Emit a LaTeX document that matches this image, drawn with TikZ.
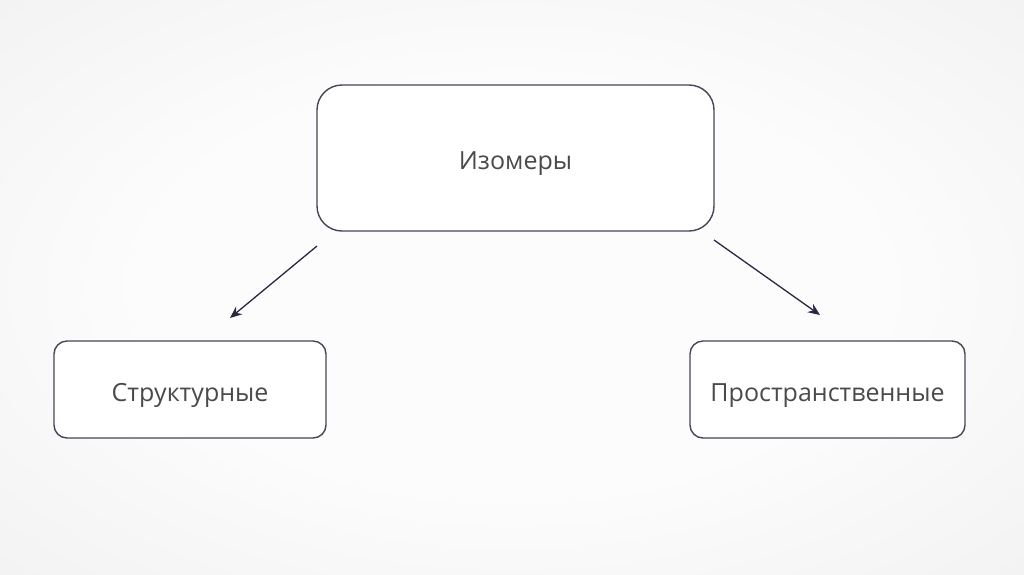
\documentclass[tikz,border=0pt]{standalone}
\usepackage{fontspec}
\setmainfont{Open Sans}
\usetikzlibrary{arrows.meta}
\definecolor{bgcenter}{HTML}{FCFCFC}
\definecolor{bgmid}{HTML}{F3F3F3}
\definecolor{bgedge}{HTML}{EAEAEA}
\definecolor{bgcorner}{HTML}{E2E2E2}
\definecolor{boxline}{HTML}{4A4456}
\definecolor{arrowcol}{HTML}{2E2640}
\definecolor{txtcol}{HTML}{4A4A4A}
\pgfdeclareradialshading{bgshade}{\pgfpoint{0bp}{0bp}}{color(0bp)=(bgcenter); color(18bp)=(bgcenter); color(35bp)=(bgmid); color(50bp)=(bgedge); color(71bp)=(bgcorner)}
\tikzset{
  boxstyle/.style={draw=boxline, line width=1.4pt, fill=white, inner sep=0pt,
    text=txtcol, font=\fontsize{25}{29}\selectfont, text height=24pt, text depth=1pt},
  arrowstyle/.style={draw=arrowcol, line width=1.3pt, -{Stealth[length=12pt,width=10pt]}}
}
\begin{document}
\begin{tikzpicture}[x=1pt,y=-1pt]
\useasboundingbox (0,0) rectangle (1024,574);
\shade[shading=bgshade] (0,0) rectangle (1024,574);
\node[boxstyle, minimum width=397pt, minimum height=146pt, rounded corners=25pt] (top) at (515.5,158) {Изомеры};
\node[boxstyle, minimum width=272pt, minimum height=97pt, rounded corners=13pt] (left) at (190,389.5) {Структурные};
\node[boxstyle, minimum width=275pt, minimum height=97pt, rounded corners=13pt] (right) at (827.5,389.5) {Пространственные};
\coordinate (la) at (317,246);
\coordinate (lb) at (230,318);
\coordinate (ra) at (714,240);
\coordinate (rb) at (820,315);
\draw[arrowstyle] (la) -- (lb);
\draw[arrowstyle] (ra) -- (rb);
\end{tikzpicture}
\end{document}
